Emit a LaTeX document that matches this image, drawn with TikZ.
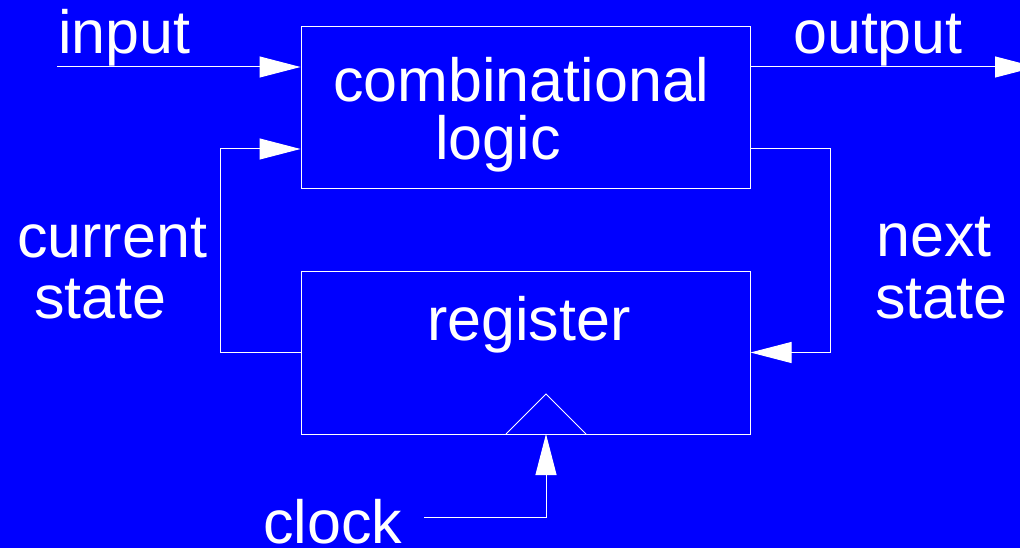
\documentclass[tikz,border=0pt]{standalone}
\usepackage{fontspec}
\setmainfont{Liberation Sans}
\usetikzlibrary{arrows.meta}
\begin{document}
\begin{tikzpicture}[x=1pt,y=-1pt,
  wire/.style={draw=white,line width=1pt},
  arr/.style={wire,-{Triangle[length=41pt,width=21pt,fill=white]}},
  block/.style={wire,rectangle,inner sep=0pt,minimum width=449pt},
  lbl/.style={text=white,inner sep=0pt,anchor=base west,font=\fontsize{61}{61}\selectfont}]
  % background
  \fill[blue] (0,0) rectangle (1020,548);
  \useasboundingbox (0,0) rectangle (1020,548);

  % the two blocks
  \node[block,minimum height=162pt] (comb) at (525.5,108) {};
  \node[block,minimum height=163pt] (reg) at (525.5,352.5) {};

  % labels
  \node[lbl] (tcomb) at (333,102) {combinational};
  \node[lbl] (tlogic) at (435,160) {logic};
  \node[lbl] (treg) at (427,340) {register};
  \node[lbl] (tin) at (58,54) {input};
  \node[lbl] (tout) at (793,54) {output};
  \node[lbl] (tcur) at (17,258) {current};
  \node[lbl] (tcst) at (34,318) {state};
  \node[lbl] (tnext) at (876,257) {next};
  \node[lbl] (tnst) at (875,318) {state};
  \node[lbl] (tclk) at (263,543) {clock};

  % connector end points
  \coordinate (inS) at (57,67);
  \coordinate (outE) at (1036,67);
  \coordinate (cs) at (220,149);
  \coordinate (ns) at (830,149);
  \coordinate (ck) at (424,517);
  \coordinate (clk) at (546,434);

  % clock input mark on the register
  \draw[wire] ([xshift=-40pt]clk) -- ([yshift=40pt]clk) -- ([xshift=40pt]clk);

  % connectors
  \draw[arr] (inS) -- (inS -| comb.west);
  \draw[arr] (outE -| comb.east) -- (outE);
  \draw[arr] (reg.west) -| (cs) -- (cs -| comb.west);
  \draw[arr] (ns -| comb.east) -- (ns) |- (reg.east);
  \draw[arr] (ck) -| (clk);
\end{tikzpicture}
\end{document}
